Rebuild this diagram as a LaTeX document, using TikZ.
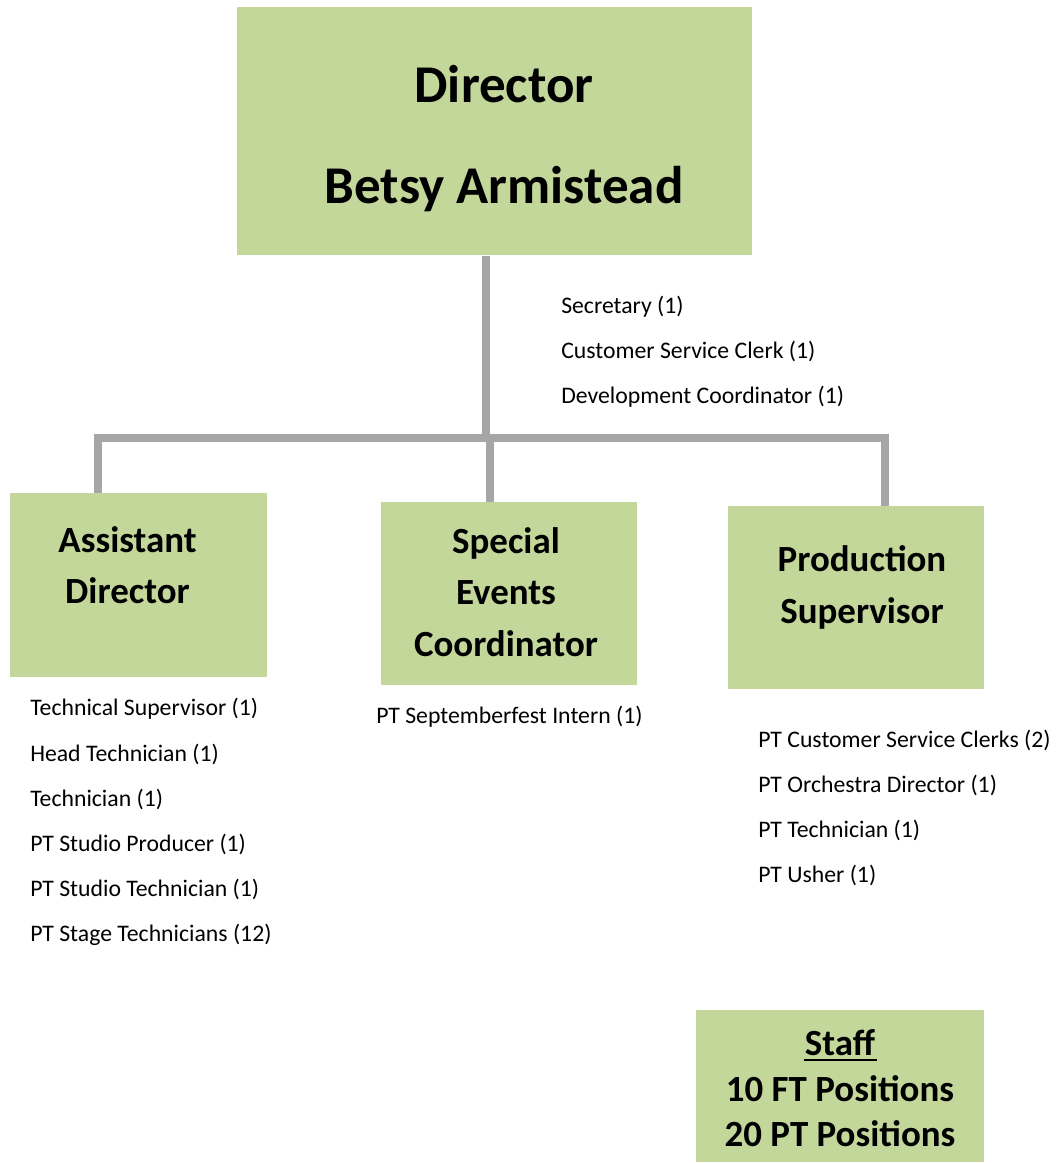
\documentclass[tikz,border=0pt]{standalone}
\usepackage{fontspec}
\setmainfont{Carlito}
\usetikzlibrary{positioning}
\definecolor{boxgreen}{HTML}{C4D79B}
\definecolor{linegray}{HTML}{A6A6A6}

\begin{document}
\begin{tikzpicture}[
    x=0.75pt,y=-0.75pt,
    box/.style={fill=boxgreen,draw=none,inner sep=0pt,anchor=north west},
    head/.style={font=\bfseries\fontsize{27.7}{38.5}\selectfont,align=center,inner sep=0pt},
    tophead/.style={font=\bfseries\fontsize{39.8}{75.75}\selectfont,align=center,inner sep=0pt},
    roles/.style={font=\fontsize{17.8}{33.8}\selectfont,align=left,anchor=west,inner sep=0pt},
    conn/.style={draw=linegray,line width=6pt,line join=miter}
  ]
    \useasboundingbox (0,0) rectangle (1058,1163);

    % boxes
    \node[box,minimum width=515*0.75pt,minimum height=248*0.75pt] (dir) at (237,7) {};
    \node[box,minimum width=257*0.75pt,minimum height=184*0.75pt] (ad) at (10,493) {};
    \node[box,minimum width=256*0.75pt,minimum height=183*0.75pt] (sec) at (381,502) {};
    \node[box,minimum width=256*0.75pt,minimum height=183*0.75pt] (ps) at (728,506) {};
    \node[box,minimum width=288*0.75pt,minimum height=152*0.75pt] (staff) at (696,1010) {};

    % box titles
    \node[tophead] (dirtext) at (504,138.5) {Director\\Betsy Armistead};
    \node[head] (adtext) at (127.5,565.5) {Assistant\\Director};
    \node[head] (sectext) at (506,592) {Special\\Events\\Coordinator};
    \node[head] (pstext) at (862,587.5) {Production\\Supervisor};
    \node[head,font=\bfseries\fontsize{27.7}{34.1}\selectfont] (stafftext) at (840,1088.5) {Staff\\10 FT Positions\\20 PT Positions};
    \draw[line width=1.6pt] (804,1060) -- (877,1060);

    % role lists
    \node[roles] (dirroles) at (561,351.5) {Secretary (1)\\Customer Service Clerk (1)\\Development Coordinator (1)};
    \node[roles] (adroles) at (30,822) {Technical Supervisor (1)\\Head Technician (1)\\Technician (1)\\PT Studio Producer (1)\\PT Studio Technician (1)\\PT Stage Technicians (12)};
    \node[roles] (secroles) at (376,717) {PT Septemberfest Intern (1)};
    \node[roles] (psroles) at (758,808) {PT Customer Service Clerks (2)\\PT Orchestra Director (1)\\PT Technician (1)\\PT Usher (1)};

    % connectors
    \coordinate (bus) at (486,438);
    \coordinate (busL) at (98,438);
    \coordinate (busM) at (490,438);
    \coordinate (busR) at (885,438);
    \draw[conn] (dir.south -| bus) -- (bus);
    \draw[conn] (ad.north -| busL) -- (busL) -- (busR) -- (ps.north -| busR);
    \draw[conn] (busM) -- (sec.north -| busM);
  \end{tikzpicture}
\end{document}
